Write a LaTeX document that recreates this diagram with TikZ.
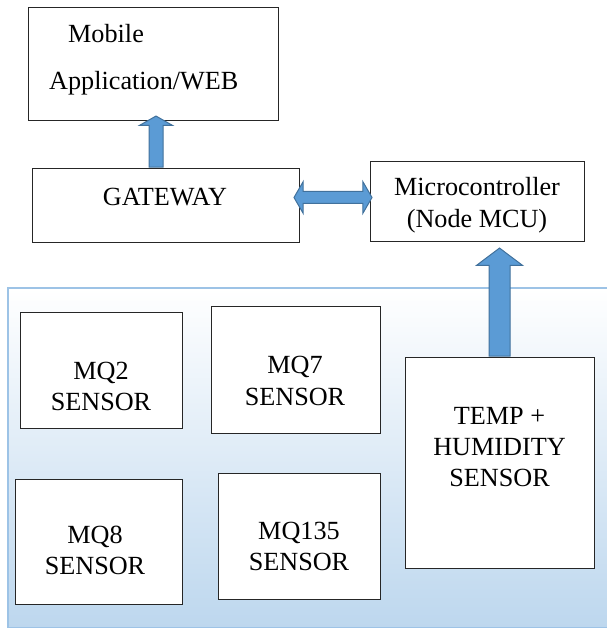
\documentclass[tikz,border=0pt]{standalone}
\usepackage{fontspec}
\setmainfont{Liberation Serif}
\usetikzlibrary{shapes.arrows}

\definecolor{arrowfill}{HTML}{5B9BD5}
\definecolor{arrowline}{HTML}{41719C}
\definecolor{panelline}{HTML}{9DC3E6}
\definecolor{panelbottom}{HTML}{BDD7EE}

\tikzset{
  box/.style={draw=black!85, line width=0.9pt, fill=white, inner sep=0pt},
  txt/.style={align=center, inner sep=0pt, font=\fontsize{26.2}{31}\selectfont},
  panel/.style={draw=panelline, line width=2pt, top color=white, bottom color=panelbottom, inner sep=0pt},
  blockup/.style={single arrow, draw=arrowline, fill=arrowfill, line width=1pt,
    inner xsep=0pt, single arrow head indent=0pt, rotate=90, anchor=tail},
  blockboth/.style={double arrow, draw=arrowline, fill=arrowfill, line width=1pt,
    inner xsep=0pt, double arrow head indent=0pt},
}

\begin{document}
\begin{tikzpicture}[x=1pt,y=-1pt]
            \useasboundingbox (0,0) rectangle (606,628);
            % sensor panel
            \node[panel, anchor=north west, minimum width=620pt, minimum height=339.5pt] (panel) at (7,287) {};
            % boxes
            \node[box, minimum width=250pt, minimum height=113pt] (mob) at (153,63.5) {};
            \node[box, minimum width=267pt, minimum height=74pt] (gw) at (165.5,205) {};
            \node[box, minimum width=214pt, minimum height=80pt] (mcu) at (477,201) {};
            \node[box, minimum width=162pt, minimum height=116pt] (mq2) at (101,370) {};
            \node[box, minimum width=169pt, minimum height=127pt] (mq7) at (295.5,369.5) {};
            \node[box, minimum width=167pt, minimum height=125pt] (mq8) at (98.5,541.5) {};
            \node[box, minimum width=162pt, minimum height=126pt] (mq135) at (299,536) {};
            \node[box, minimum width=189pt, minimum height=211pt] (dht) at (499.5,462.5) {};
            % labels
            \node[txt, anchor=base west] (mobtxt) at (68,43) {Mobile};
            \node[txt, anchor=base west] (apptxt) at (49,90) {Application/WEB};
            \node[txt, anchor=base] (gwtxt) at (165,205) {GATEWAY};
            \node[txt] (mcutxt) at (477,205) {Microcontroller\\[1pt](Node MCU)};
            \node[txt] (mq2txt) at (101,386.5) {MQ2\\SENSOR};
            \node[txt] (mq7txt) at (295,380.5) {MQ7\\[1pt]SENSOR};
            \node[txt] (mq8txt) at (95,550) {MQ8\\SENSOR};
            \node[txt] (mq135txt) at (299,546) {MQ135\\SENSOR};
            \node[txt] (dhttxt) at (499.5,447) {TEMP +\\HUMIDITY\\SENSOR};
            % block arrows
            \node[blockup, minimum height=51pt, inner ysep=6.5pt, single arrow head extend=9.5pt,
              single arrow tip angle=121] (up1) at ([xshift=-9.5pt]gw.north) {};
            \node[blockup, minimum height=108pt, inner ysep=10pt, single arrow head extend=12.5pt,
              single arrow tip angle=106] (up2) at (dht.north) {};
            \node[blockboth, minimum height=78pt, inner ysep=5.5pt, double arrow head extend=10pt,
              double arrow tip angle=120] (link) at (333,197.5) {};
        \end{tikzpicture}
\end{document}
